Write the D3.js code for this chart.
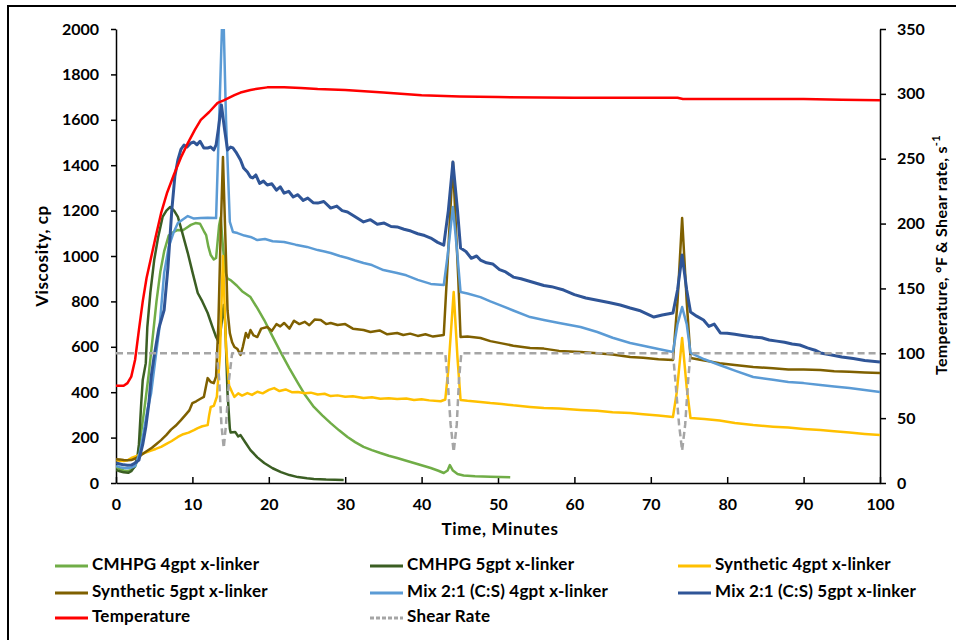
<!DOCTYPE html>
<html>
<head>
<meta charset="utf-8">
<script src="https://cdn.jsdelivr.net/npm/d3@7"></script>
<style>
  body { margin: 0; background: #fff; }
  text { font-family: Lato, "Open Sans", sans-serif; }
</style>
</head>
<body>
<div id="chart"></div>
<script>
// viscosity series, [minutes, cp]
const cmhpg4 = [[0,70],[0.5,62],[1,55],[1.5,52],[2,58],[2.5,72],[2.8,101],[3.2,200],[3.7,322],[4.3,484],[4.8,640],[5.3,800],[5.8,930],[6.3,1020],[6.9,1090],[7.5,1105],[8.1,1115],[8.7,1112],[9.4,1128],[9.8,1137],[10.4,1145],[11,1142],[11.5,1110],[11.8,1092],[12.1,1040],[12.4,1004],[12.8,985],[13.1,991],[13.5,1136],[13.7,1170],[14,1040],[14.3,930],[14.6,900],[15,894],[15.8,870],[16.5,845],[17.6,819],[18.5,770],[19.4,718],[20.5,645],[21.6,573],[22.7,505],[23.8,441],[24.8,385],[25.9,335],[27,298],[28.1,264],[29.2,232],[30.3,203],[31.3,180],[32.4,159],[33.5,145],[34.6,132],[35.7,120],[36.8,110],[38,98],[39,88],[40.1,77],[41.2,66],[42.2,54],[42.9,44],[43.4,55],[43.7,79],[44.1,55],[44.7,40],[45.5,33],[47,30],[49,28],[51.6,25]];

const cmhpg5 = [[0,57],[0.5,52],[1,47],[1.6,45],[2,52],[2.4,70],[2.8,115],[3,170],[3.3,350],[3.5,454],[3.9,528],[4.1,687],[4.5,840],[5,982],[5.5,1080],[6.1,1172],[6.6,1200],[7.1,1216],[7.6,1200],[8.1,1172],[8.7,1100],[9.4,1013],[10,930],[10.7,837],[11.3,800],[12,749],[12.6,690],[13.1,643],[13.5,617],[13.8,700],[14.1,784],[14.3,700],[14.6,396],[14.9,240],[15,222],[15.6,225],[16,205],[16.3,211],[17,175],[17.6,145],[18.5,113],[19.4,88],[20.5,65],[21.6,48],[22.7,35],[23.8,26],[25,21],[25.9,18],[27.5,15],[29.8,13]];

const syn4 = [[0,100],[0.5,98],[1,97],[1.5,100],[2,110],[2.8,120],[3.7,132],[4.5,142],[5.2,150],[5.9,159],[6.6,172],[7.3,185],[8.1,203],[8.8,215],[9.5,222],[10.2,233],[10.7,242],[11.3,250],[12,255],[12.2,300],[12.4,335],[12.8,340],[13.2,380],[13.6,560],[14,1000],[14.4,600],[14.8,430],[15.2,400],[15.5,379],[16,395],[16.5,385],[17.2,396],[17.8,388],[18.5,402],[19.2,395],[20,410],[20.7,418],[21.4,405],[22.2,412],[23,400],[23.8,401],[24.7,395],[25.5,398],[26.4,390],[27.3,393],[28.1,383],[29,386],[30,380],[31,382],[32.4,374],[33.5,378],[34.6,371],[35.7,373],[36.8,370],[38,372],[39,366],[40,369],[41,364],[42.5,360],[43.1,368],[43.5,500],[44.2,841],[44.7,550],[45.1,366],[46,362],[47.7,357],[49,352],[50.5,348],[52,342],[54.2,335],[56,330],[58,328],[60.8,322],[63,318],[65,312],[67.3,308],[69,303],[71,297],[72.9,291],[73.4,400],[74.1,639],[74.7,420],[75.2,286],[77,282],[79,275],[81,264],[83.4,255],[86,248],[88,244],[90,238],[92.2,233],[94,228],[96,222],[98,216],[100,211]];

const syn5 = [[0,105],[0.5,104],[1,101],[1.5,100],[2,101],[2.5,108],[3.3,123],[4,140],[4.7,155],[5.3,172],[5.9,189],[6.6,212],[7.2,235],[7.8,252],[8.5,277],[9.1,300],[9.6,320],[10,352],[10.5,360],[11,370],[11.5,379],[11.8,430],[12,462],[12.4,445],[12.8,440],[13.1,470],[13.4,700],[13.7,1100],[14,1436],[14.3,1100],[14.6,760],[14.9,660],[15.2,620],[15.5,599],[15.9,590],[16.3,564],[16.6,600],[17,661],[17.3,640],[17.6,674],[18,650],[18.5,643],[19,680],[19.8,687],[20.4,670],[21,700],[21.5,690],[22,705],[22.7,680],[23.3,715],[24,700],[24.7,710],[25.3,695],[26,720],[26.8,718],[27.5,700],[28.1,705],[29,696],[30,700],[31,680],[32.4,674],[33.3,665],[34.5,672],[35.5,655],[36.8,661],[37.6,652],[38.5,658],[39.5,648],[40.5,655],[41.5,645],[42.9,652],[43.3,900],[44.1,1414],[44.8,900],[45.1,643],[46,645],[47.7,639],[49,625],[50.5,615],[52,605],[54.2,595],[56,592],[58,582],[60.8,577],[63,572],[65,566],[67.3,555],[69,552],[71,545],[72.9,542],[73.5,800],[74.1,1167],[74.7,800],[75.2,551],[77,540],[79,528],[81,520],[83.4,511],[86,505],[88,500],[90,500],[92.2,498],[94,492],[96,490],[98,487],[100,485]];

const mix4 = [[0,75],[0.5,70],[1,66],[1.5,65],[2,68],[2.5,75],[3.1,132],[3.6,220],[4.1,320],[4.6,396],[5.1,530],[5.7,687],[6.3,925],[6.9,1040],[7.5,1100],[8.1,1145],[8.7,1160],[9.4,1176],[10.2,1165],[11.1,1167],[12,1168],[13.1,1167],[13.5,1600],[14,2150],[14.4,1600],[14.9,1150],[15.3,1106],[15.9,1101],[16.8,1090],[17.6,1084],[18.5,1070],[19.5,1075],[20.5,1065],[22,1062],[23.5,1050],[25,1040],[26.4,1026],[27.3,1020],[28.1,1013],[29.3,1000],[30.3,991],[31.3,980],[32.4,969],[33.5,960],[35,938],[36.8,925],[38,915],[39.5,895],[41.2,877],[42.9,872],[43.4,1000],[44.1,1216],[44.7,1000],[45.1,841],[46,835],[47.7,819],[49,800],[50.5,780],[52,760],[54.2,731],[56,718],[58,705],[60.8,687],[63,665],[65,640],[67.3,617],[69,605],[71,590],[72.9,577],[73.5,700],[74.1,775],[74.7,700],[75.2,573],[77,545],[79,520],[81,495],[83.4,467],[86,455],[88,445],[90,440],[92.2,432],[94,425],[96,418],[98,410],[100,401]];

const mix5 = [[0,88],[0.5,84],[1,80],[1.5,78],[2,79],[2.5,88],[3,101],[3.5,170],[3.9,247],[4.3,350],[4.6,467],[5,560],[5.6,680],[6.3,762],[6.8,950],[7.3,1200],[7.7,1350],[8.1,1423],[8.5,1470],[8.9,1489],[9.3,1480],[9.8,1498],[10.2,1502],[10.6,1490],[11,1505],[11.5,1476],[12,1476],[12.4,1480],[12.8,1467],[13.1,1489],[13.4,1560],[13.8,1665],[14.2,1560],[14.6,1467],[15,1480],[15.3,1476],[15.7,1458],[16.3,1423],[16.7,1388],[17.2,1370],[17.6,1348],[17.9,1344],[18.3,1357],[18.8,1320],[19.3,1330],[19.8,1313],[20.4,1318],[21,1290],[21.5,1305],[22,1277],[22.6,1285],[23.2,1260],[23.8,1270],[24.5,1245],[25.1,1255],[25.8,1235],[26.4,1233],[27.2,1240],[28.1,1211],[28.9,1220],[29.6,1200],[30.3,1194],[31.2,1175],[32.4,1150],[33.3,1160],[34.2,1140],[35.1,1145],[36,1130],[36.8,1128],[37.7,1118],[38.6,1110],[39.5,1098],[40.4,1090],[41.2,1079],[42.1,1060],[42.9,1048],[43.5,1200],[44.1,1414],[44.7,1200],[45.1,1035],[45.8,1020],[46.5,990],[47.2,1000],[47.7,982],[48.5,970],[49.3,965],[50.2,940],[51,930],[52,907],[53,900],[54,890],[55,880],[56,870],[57,865],[58.6,850],[60,830],[61.5,815],[63,805],[64.5,795],[66,784],[67.3,771],[68.5,760],[70.4,731],[71.5,740],[72.9,749],[73.5,850],[74.1,1004],[74.7,850],[75.2,753],[76,735],[76.9,718],[77.6,690],[78.3,700],[79.1,661],[80,660],[81,655],[82,650],[83.4,643],[84.5,640],[85.5,630],[86.5,625],[87.5,620],[88.5,612],[89.5,608],[90.5,595],[91.5,585],[92.2,573],[93.5,565],[95,555],[96.5,548],[98,540],[100,533]];

// right axis series: [minutes, degF or 1/s]
const temperature = [[0,75],[1,75],[1.5,77],[2,82],[2.5,95],[3,118],[3.5,140],[4,158],[4.6,174],[5.2,190],[5.9,208],[6.7,224],[7.6,238],[8.5,251],[9.4,262],[10.3,272],[11.1,280],[12.2,286],[13.3,293],[14.1,295],[15.5,299],[16.3,301],[17.6,303],[18.5,304],[19.8,305],[22,305],[24.2,304.5],[26.4,303.7],[30,303],[35,301],[40,299],[45,298],[50,297.5],[60,297],[70,297],[73.5,297],[74.2,296],[80,296],[90,296],[95,295.5],[100,295]];

const shearRate = [[0,100],[13.2,100],[13.5,80],[13.8,45],[14.1,27],[14.4,45],[14.8,80],[15.2,100],[43.1,100],[43.4,80],[43.8,45],[44.2,24],[44.6,45],[44.9,80],[45.2,100],[72.9,100],[73.2,80],[73.7,45],[74.1,25],[74.5,45],[74.9,80],[75.2,100],[100,100]];

const xTicks = [0,10,20,30,40,50,60,70,80,90,100];
const yTicks = [0,200,400,600,800,1000,1200,1400,1600,1800,2000];
const y2Ticks = [0,50,100,150,200,250,300,350];

const series = [
  { name: "CMHPG 4gpt x-linker", data: cmhpg4, color: "#70AD47", axis: "left" },
  { name: "CMHPG 5gpt x-linker", data: cmhpg5, color: "#3B5E23", axis: "left" },
  { name: "Synthetic 4gpt x-linker", data: syn4, color: "#FFC000", axis: "left" },
  { name: "Synthetic 5gpt x-linker", data: syn5, color: "#7F6000", axis: "left" },
  { name: "Mix 2:1 (C:S) 4gpt x-linker", data: mix4, color: "#5B9BD5", axis: "left" },
  { name: "Mix 2:1 (C:S) 5gpt x-linker", data: mix5, color: "#2F5597", axis: "left", width: 3 },
  { name: "Temperature", data: temperature, color: "#FF0000", axis: "right" },
  { name: "Shear Rate", data: shearRate, color: "#A5A5A5", axis: "right", dash: "7,4" }
];

let margin = { top: 29, right: 76, bottom: 157, left: 116 },
    width = 956 - margin.left - margin.right,
    height = 640 - margin.top - margin.bottom;

let svg = d3.select("#chart")
    .append("svg")
    .attr("width", 956)
    .attr("height", 640);

// outer frame
svg.append("rect")
    .attr("x", 8).attr("y", 6)
    .attr("width", 980).attr("height", 660)
    .attr("fill", "none")
    .attr("stroke", "#000")
    .attr("stroke-width", 2);

let g = svg.append("g")
    .attr("transform", "translate(" + margin.left + "," + margin.top + ")");

let x = d3.scaleLinear().domain([0, 100]).range([0, width]);
let y = d3.scaleLinear().domain([0, 2000]).range([height, 0]);
let y2 = d3.scaleLinear().domain([0, 350]).range([height, 0]);

g.append("clipPath").attr("id", "plot")
    .append("rect").attr("width", width).attr("height", height);

// axes
let xAxis = g.append("g")
    .attr("transform", "translate(0," + height + ")")
    .call(d3.axisBottom(x).tickValues(xTicks).tickSizeInner(-6).tickSizeOuter(0).tickPadding(16));
let yAxis = g.append("g")
    .call(d3.axisLeft(y).tickValues(yTicks).tickFormat(d3.format("d")).tickSizeInner(5).tickSizeOuter(0).tickPadding(12));
let y2Axis = g.append("g")
    .attr("transform", "translate(" + width + ",0)")
    .call(d3.axisRight(y2).tickValues(y2Ticks).tickSizeInner(6).tickSizeOuter(0).tickPadding(11));

[xAxis, yAxis, y2Axis].forEach(function (a) {
    a.select(".domain").attr("stroke", "#000").attr("stroke-width", 1.5);
    a.selectAll(".tick line").attr("stroke", "#000").attr("stroke-width", 1.5);
    a.selectAll(".tick text")
        .attr("fill", "#000")
        .style("font-family", "Lato, sans-serif")
        .style("font-size", "16px")
        .style("font-weight", "bold");
});

// lines
let lines = g.append("g").attr("clip-path", "url(#plot)");
series.forEach(function (s) {
    let sc = s.axis === "left" ? y : y2;
    let line = d3.line()
        .x(function (d) { return x(d[0]); })
        .y(function (d) { return sc(d[1]); });
    lines.append("path")
        .datum(s.data)
        .attr("d", line)
        .attr("fill", "none")
        .attr("stroke", s.color)
        .attr("stroke-width", s.width || 2.5)
        .attr("stroke-linejoin", "round")
        .attr("stroke-dasharray", s.dash || null);
});

// axis titles
svg.append("text")
    .attr("transform", "translate(44,256) rotate(-90)")
    .attr("text-anchor", "middle")
    .attr("dominant-baseline", "middle")
    .style("font-size", "17px")
    .style("font-weight", "bold")
    .style("letter-spacing", "0.6px")
    .text("Viscosity, cp");

svg.append("text")
    .attr("x", 500).attr("y", 531)
    .attr("text-anchor", "middle")
    .attr("dominant-baseline", "middle")
    .style("font-size", "17px")
    .style("font-weight", "bold")
    .style("letter-spacing", "0.7px")
    .text("Time, Minutes");

let rt = svg.append("text")
    .attr("transform", "translate(943,255) rotate(-90)")
    .attr("text-anchor", "middle")
    .attr("dominant-baseline", "middle")
    .style("font-size", "16px")
    .style("font-weight", "bold")
    .style("letter-spacing", "0.3px");
rt.append("tspan").text("Temperature, \u00B0F & Shear rate, s");
rt.append("tspan").attr("dy", -6).style("font-size", "11px").text("-1");

// legend, three columns
let legend = svg.append("g");
let colX = [55, 370, 678], rowY = [566, 593, 618];
series.forEach(function (s, i) {
    let lx = colX[i % 3], ly = rowY[Math.floor(i / 3)];
    legend.append("line")
        .attr("x1", lx).attr("x2", lx + 33)
        .attr("y1", ly).attr("y2", ly)
        .attr("stroke", s.color)
        .attr("stroke-width", 3)
        .attr("stroke-dasharray", s.dash ? "4,2" : null);
    legend.append("text")
        .attr("x", lx + 37).attr("y", ly)
        .attr("dominant-baseline", "middle")
        .style("font-size", "17px")
        .style("font-weight", "bold")
        .style("letter-spacing", "0.2px")
        .text(s.name);
});
</script>
</body>
</html>
